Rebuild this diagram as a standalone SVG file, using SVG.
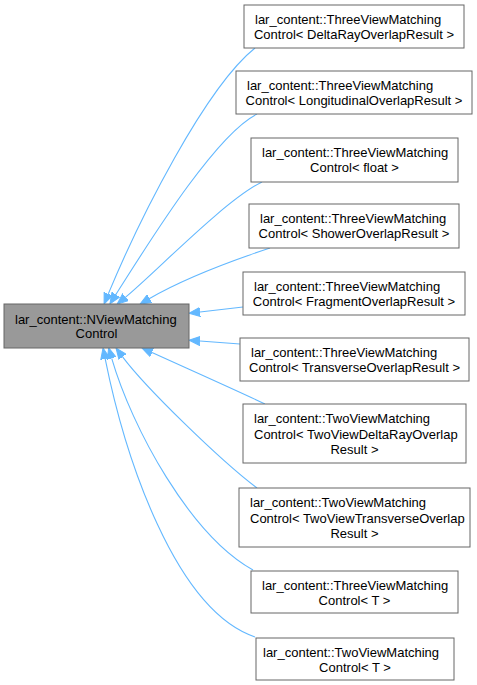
<svg xmlns="http://www.w3.org/2000/svg" width="477" height="685" viewBox="0 0 477 685">
<style>
.bg{fill:#ffffff}
.node rect{fill:#ffffff;stroke:#666666;stroke-width:1}
#main rect{fill:#999999}
.node text{font-family:"Liberation Sans",Arial,sans-serif;font-size:13px;fill:#000000}
.c{text-anchor:middle}
.edge{fill:none;stroke:#63b8ff;stroke-width:1.1;marker-end:url(#arr)}
</style>
<defs>
<marker id="arr" markerUnits="userSpaceOnUse" markerWidth="12" markerHeight="10" refX="0" refY="5" orient="auto">
<path d="M0,0.5 L11,5 L0,9.5 z" fill="#63b8ff" stroke="#63b8ff" stroke-width="1"/>
</marker>
</defs>
<rect class="bg" x="0" y="0" width="477" height="685"/>
<g id="edges">
<path class="edge" d="M255,48 C205,88 139,220 108.3,293.9"/>
<path class="edge" d="M257,114 C215,135 148,244 115.8,294.6"/>
<path class="edge" d="M262,182 C225,200 156,272 125.6,297.1"/>
<path class="edge" d="M270,248 C240,258 190,275 149.6,298.5"/>
<path class="edge" d="M243,307 L200,312"/>
<path class="edge" d="M240,344 L200,341"/>
<path class="edge" d="M265,404 C240,392 195,372 152,352.5"/>
<path class="edge" d="M257,488 C220,460 146,388 122.6,356.8"/>
<path class="edge" d="M253,570 C190,535 132,428 111.7,358.3"/>
<path class="edge" d="M255,637 C175,610 125,457 105.2,358.8"/>
</g>
<g id="main" class="node">
<rect x="4" y="304" width="185" height="44"/>
<text x="15" y="323.5">lar_content::NViewMatching</text>
<text class="c" x="96.5" y="338">Control</text>
</g>
<g id="n1" class="node">
<rect x="244" y="5" width="220" height="43"/>
<text x="255" y="24">lar_content::ThreeViewMatching</text>
<text class="c" x="354" y="39">Control&lt; DeltaRayOverlapResult &gt;</text>
</g>
<g id="n2" class="node">
<rect x="236" y="71" width="236" height="43"/>
<text x="247" y="90">lar_content::ThreeViewMatching</text>
<text class="c" x="354" y="105">Control&lt; LongitudinalOverlapResult &gt;</text>
</g>
<g id="n3" class="node">
<rect x="251" y="138" width="207" height="44"/>
<text x="262" y="157">lar_content::ThreeViewMatching</text>
<text class="c" x="354.5" y="172">Control&lt; float &gt;</text>
</g>
<g id="n4" class="node">
<rect x="249" y="204" width="210" height="44"/>
<text x="260" y="223">lar_content::ThreeViewMatching</text>
<text class="c" x="354" y="238">Control&lt; ShowerOverlapResult &gt;</text>
</g>
<g id="n5" class="node">
<rect x="243" y="272" width="222" height="43"/>
<text x="254" y="291">lar_content::ThreeViewMatching</text>
<text class="c" x="354" y="306">Control&lt; FragmentOverlapResult &gt;</text>
</g>
<g id="n6" class="node">
<rect x="240" y="338" width="229" height="43"/>
<text x="251" y="357">lar_content::ThreeViewMatching</text>
<text class="c" x="354.5" y="372">Control&lt; TransverseOverlapResult &gt;</text>
</g>
<g id="n7" class="node">
<rect x="243" y="404" width="223" height="59"/>
<text x="254" y="423">lar_content::TwoViewMatching</text>
<text x="254" y="438.5">Control&lt; TwoViewDeltaRayOverlap</text>
<text class="c" x="354.5" y="454">Result &gt;</text>
</g>
<g id="n8" class="node">
<rect x="239" y="488" width="231" height="59"/>
<text x="250" y="507">lar_content::TwoViewMatching</text>
<text x="250" y="522.5">Control&lt; TwoViewTransverseOverlap</text>
<text class="c" x="354.5" y="538">Result &gt;</text>
</g>
<g id="n9" class="node">
<rect x="251" y="571" width="207" height="42"/>
<text x="262" y="590">lar_content::ThreeViewMatching</text>
<text class="c" x="354.5" y="605">Control&lt; T &gt;</text>
</g>
<g id="n10" class="node">
<rect x="256" y="638" width="198" height="42"/>
<text x="263" y="657">lar_content::TwoViewMatching</text>
<text class="c" x="355" y="672">Control&lt; T &gt;</text>
</g>
</svg>
